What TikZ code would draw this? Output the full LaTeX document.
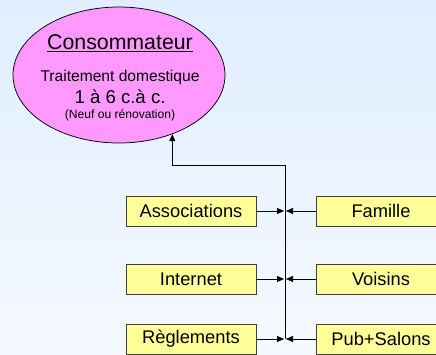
\documentclass[tikz,border=0pt]{standalone}
\usepackage{fontspec}
\setmainfont{Liberation Sans}
\usetikzlibrary{shapes.geometric,arrows.meta}
\definecolor{bgtop}{RGB}{224,238,255}
\definecolor{bgbot}{RGB}{245,249,255}
\definecolor{pinkfill}{RGB}{255,153,255}
\definecolor{boxfill}{RGB}{255,255,153}
\definecolor{boxline}{RGB}{64,64,64}
\tikzset{every picture/.style={line width=0.75pt}}
\tikzset{source/.style={draw=boxline,fill=boxfill,minimum width=130pt,minimum height=30pt,inner sep=0pt,font=\fontsize{18.3}{22}\selectfont},
	feed/.style={-{Triangle[length=7pt,width=6pt]},shorten >=1pt}}

\begin{document}
\begin{tikzpicture}[x=1pt,y=1pt,yscale=-1,xscale=1]
	\clip (0,0) rectangle (436,354);
	%Background
	\shade [top color=bgtop,bottom color=bgbot] (0,0) rectangle (436,354);

	%Shape: Ellipse
	\node [ellipse,draw,fill=pinkfill,minimum width=212pt,minimum height=136pt,inner sep=0pt] (conso) at (119,75) {};
	% Text Node
	\node [font=\fontsize{21.3}{25}\selectfont] (titre) at (120,43) {\underline{Consommateur}};
	% Text Node
	\node [font=\fontsize{15.6}{18}\selectfont] (usage) at (120,77) {Traitement domestique};
	% Text Node
	\node [font=\fontsize{18.6}{22}\selectfont] (dose) at (120,97) {1 à 6 c.à c.};
	% Text Node
	\node [font=\fontsize{12.1}{14}\selectfont] (neuf) at (120,115) {(Neuf ou rénovation)};

	%Shape: Rectangle
	\node [source] (assoc) at (191,211) {Associations};
	\node [source] (internet) at (191,279) {Internet};
	\node [source] (regl) at (191,339) {Règlements};
	\node [source] (famille) at (381,211) {Famille};
	\node [source] (voisins) at (381,279) {Voisins};
	\node [source] (pub) at (381,339) {Pub+Salons};

	%Straight Lines
	\coordinate (bas) at (285,339);
	\coordinate (haut) at (285,165);
	\draw [feed,shorten >=0pt] (bas) -- (haut) -| (conso.-48);

	%Straight Lines
	\draw [feed] (assoc.east) -- (assoc.east -| bas);
	\draw [feed] (internet.east) -- (internet.east -| bas);
	\draw [feed] (regl.east) -- (regl.east -| bas);
	\draw [feed] (famille.west) -- (famille.west -| bas);
	\draw [feed] (voisins.west) -- (voisins.west -| bas);
	\draw [feed] (pub.west) -- (pub.west -| bas);
\end{tikzpicture}
\end{document}
